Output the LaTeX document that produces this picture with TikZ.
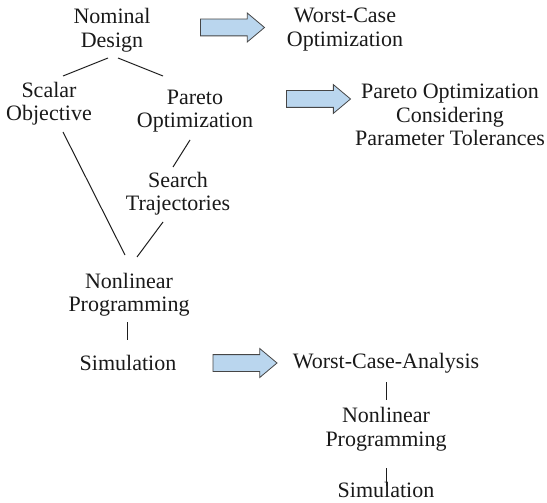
\documentclass[tikz,border=0pt]{standalone}
\usepackage{fontspec}
\setmainfont{Liberation Serif}
\usetikzlibrary{calc,shapes.arrows}
\definecolor{arrowfill}{RGB}{186,214,238}
\definecolor{arrowline}{RGB}{70,70,70}
\definecolor{linecol}{RGB}{30,30,30}
\begin{document}
\begin{tikzpicture}[x=1bp,y=-1bp,
  lbl/.style={align=center,anchor=base,inner sep=0pt,font=\fontsize{22bp}{23.5bp}\selectfont,text=black!90},
  conn/.style={draw=linecol,line width=1bp},
  blockarrow/.style={single arrow,draw=arrowline,fill=arrowfill,line width=0.8bp,
    minimum height=64bp,minimum width=28bp,inner sep=8bp,
    single arrow head extend=6bp,single arrow tip angle=80,anchor=center}]
\useasboundingbox (0,0) rectangle (547,503);
\node[lbl] (nd) at (112,47.5) {Nominal\\Design};
\node[lbl] (wco) at (345,46.5) {Worst-Case\\Optimization};
\node[lbl] (so) at (49,121) {Scalar\\Objective};
\node[lbl] (po) at (195,128) {Pareto\\Optimization};
\node[lbl] (st) at (178,211) {Search\\Trajectories};
\node[lbl] (nl) at (129,311.5) {Nonlinear\\Programming};
\node[lbl] (sim) at (128,370) {Simulation};
\node[lbl] (pt) at (450,146) {Pareto Optimization\\Considering\\Parameter Tolerances};
\node[lbl] (wca) at (386,368) {Worst-Case-Analysis};
\node[lbl] (nl2) at (386,446) {Nonlinear\\Programming};
\node[lbl] (sim2) at (386,497) {Simulation};
\node[blockarrow] (a1) at (227.5,27.5) {};
\node[blockarrow] (a2) at (313.5,99) {};
\node[blockarrow] (a3) at (240,363) {};
\draw[conn] ($(nd.base)+(-4,10.5)$) -- ($(so.base)+(14,-45)$);
\draw[conn] ($(nd.base)+(6,10.5)$) -- ($(po.base)+(-32,-52)$);
\draw[conn] ($(po.base)+(-5,12)$) -- ($(st.base)+(-5,-44)$);
\draw[conn] ($(so.base)+(14,11)$) -- ($(nl.base)+(-4,-56.5)$);
\draw[conn] ($(st.base)+(-15,11)$) -- ($(nl.base)+(8,-54.5)$);
\draw[conn] ($(nl.base)+(-2,10.5)$) -- ($(sim.base)+(-1,-30)$);
\draw[conn] ($(wca.base)+(0,14)$) -- ($(nl2.base)+(0,-46)$);
\draw[conn] ($(nl2.base)+(0,22)$) -- ($(sim2.base)+(0,-11)$);
\end{tikzpicture}
\end{document}
